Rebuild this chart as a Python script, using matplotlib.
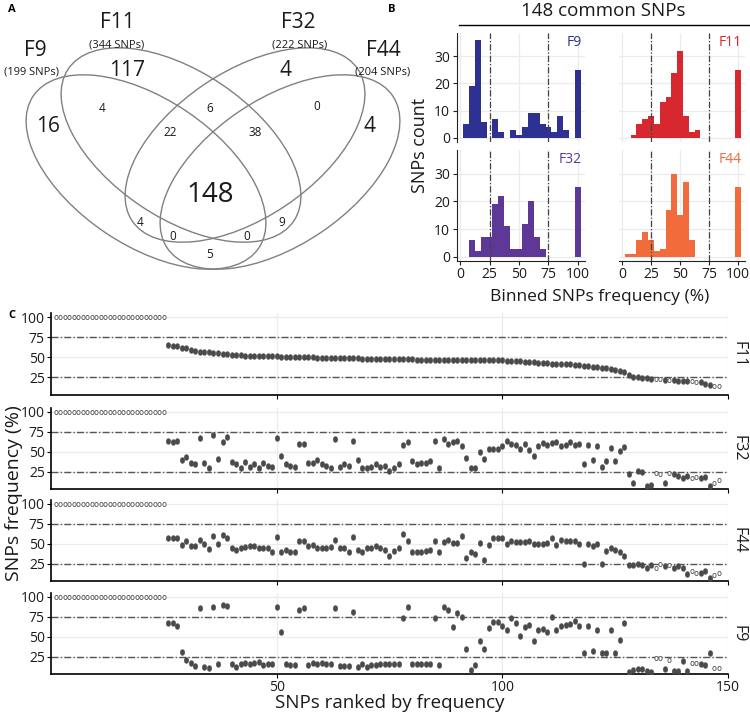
import matplotlib
matplotlib.use("Agg")
import matplotlib.pyplot as plt
from matplotlib.patches import Ellipse
from matplotlib.path import Path
from matplotlib.transforms import Affine2D

plt.rcParams['font.family'] = ['Open Sans', 'DejaVu Sans']

# --- data ---
set_names = ["F9", "F11", "F32", "F44"]
set_sizes = [199, 344, 222, 204]
venn_counts = [16, 117, 4, 4, 4, 6, 0, 22, 38, 148, 4, 9, 0, 0, 5]

bin_centers = [5, 10, 15, 20, 25, 30, 35, 40, 45, 50,
               55, 60, 65, 70, 75, 80, 85, 90, 95, 100]
hist_f9 = [5, 19, 36, 6, 0, 7, 2, 0, 3, 1, 4, 9, 9, 5, 4, 2, 8, 3, 0, 25]
hist_f11 = [0, 1, 5, 7, 8, 5, 13, 15, 24, 32, 8, 2, 3, 0, 0, 0, 0, 0, 0, 25]
hist_f32 = [0, 6, 2, 7, 7, 19, 22, 11, 3, 3, 12, 20, 7, 3, 0, 0, 0, 0, 0, 25]
hist_f44 = [1, 1, 6, 9, 6, 2, 3, 17, 30, 15, 27, 6, 0, 0, 0, 0, 0, 0, 0, 25]

# SNP frequency (%) per rank 1..148; the first 25 are fixed at 100
freq_f11 = [100] * 25 + [
    65, 64, 64, 62, 61, 59, 58, 57, 57, 56,
    55, 55, 54, 54, 53, 53, 53, 52, 52, 52,
    51, 51, 51, 51, 51, 50, 50, 50, 50, 50, 50, 50, 50, 49, 49,
    49, 49, 49, 49, 49, 49, 49, 49, 48, 48, 48, 48, 48, 48, 48,
    48, 48, 48, 48, 48, 47, 47, 47, 47, 47, 47, 47, 47, 47, 47,
    47, 46, 46, 46, 46, 46, 46, 46, 46, 46, 45, 45, 45, 45, 44,
    44, 44, 43, 43, 43, 42, 42, 41, 41, 41, 40, 40, 39, 39, 38,
    38, 37, 36, 35, 34, 33, 31, 28,
    26, 25, 24, 24, 23, 23, 23, 22, 22,
    22, 21, 21, 20, 20, 19, 19, 17, 15, 14, 14]
freq_f32 = [100] * 25 + [
    63, 62, 64, 40, 43, 36, 34, 67, 36, 30,
    71, 41, 62, 69, 37, 34, 30, 37, 31, 34,
    30, 36, 32, 31, 67, 44, 34, 32, 31, 60,
    60, 36, 36, 39, 34, 32, 30, 66, 31, 35,
    32, 64, 39, 30, 29, 31, 34, 31, 32, 26,
    30, 34, 59, 62, 38, 34, 36, 36, 38, 64,
    30, 66, 60, 62, 64, 57, 42, 30, 30, 49,
    41, 54, 54, 54, 57, 63, 60, 59, 53, 60,
    52, 44, 57, 61, 59, 61, 62, 57, 59, 62,
    58, 60, 34, 59, 40, 57, 31, 38, 55, 38,
    51, 56, 22, 11, 26, 24, 7, 8, 23, 22,
    11, 23, 22, 20, 17, 20, 17, 18, 17, 18,
    7, 10, 14]
freq_f44 = [100] * 25 + [
    57, 57, 57, 48, 53, 47, 47, 55, 50, 43,
    60, 50, 61, 57, 44, 42, 45, 46, 47, 47,
    45, 45, 44, 39, 59, 39, 42, 40, 40, 54,
    54, 47, 48, 44, 44, 44, 46, 55, 45, 45,
    39, 58, 42, 40, 44, 45, 47, 45, 42, 35,
    41, 44, 62, 53, 40, 39, 40, 41, 42, 53,
    40, 52, 55, 51, 51, 60, 32, 39, 37, 51,
    30, 48, 57, 57, 57, 50, 54, 52, 52, 52,
    54, 50, 50, 50, 51, 57, 48, 55, 54, 54,
    54, 50, 25, 50, 47, 49, 25, 41, 44, 42,
    40, 34, 23, 23, 24, 23, 20, 23, 20, 25,
    22, 23, 19, 22, 19, 12, 15, 13, 13, 15,
    7, 10, 13]
freq_f9 = [100] * 25 + [
    67, 67, 63, 31, 21, 17, 13, 86, 12, 11,
    87, 15, 90, 89, 15, 12, 16, 17, 16, 17,
    18, 14, 15, 15, 87, 56, 15, 14, 14, 83,
    86, 14, 17, 15, 17, 16, 15, 86, 13, 13,
    13, 81, 12, 15, 12, 14, 14, 16, 16, 15,
    15, 16, 73, 88, 15, 15, 15, 15, 15, 73,
    14, 87, 84, 62, 80, 75, 35, 8, 14, 45,
    35, 61, 68, 68, 63, 59, 73, 67, 51, 62,
    65, 45, 59, 60, 56, 75, 59, 64, 65, 66,
    70, 63, 29, 63, 32, 58, 29, 30, 59, 29,
    46, 67, 6, 8, 9, 9, 7, 6, 23, 23,
    9, 21, 7, 7, 19, 7, 17, 17, 15, 14,
    29, 11, 11]
hollow_ranks = list(range(1, 26)) + [134, 135, 137, 142, 143, 147, 148]

W, H = 750, 714
fig = plt.figure(figsize=(7.5, 7.14), dpi=100)


def px_axes(x0, y0, x1, y1):
    return fig.add_axes([x0 / W, 1 - y1 / H, (x1 - x0) / W, (y1 - y0) / H])


TXT = "#1a1a1a"
GRID = "#ebebeb"
DASHDOT = (0, (5, 1.6, 1, 1.6))

# --- A: Venn ---
ax = px_axes(0, 0, 400, 290)
ax.set_xlim(0, 400)
ax.set_ylim(290, 0)
ax.axis("off")
ell = [(146, 172, 34), (181, 145, 34), (245, 145, -34), (280, 172, -34)]
for cx, cy, ang in ell:
    ax.add_patch(Ellipse((cx, cy), 272, 146, angle=ang, fill=False,
                         ec="#808080", lw=1.0, clip_on=False))

name_pos = [(35, 50), (117, 23), (298, 23), (383, 50)]
size_pos = [(32, 72), (117, 45), (300, 45), (383, 72)]
for name, n, (nx, ny), (sx, sy) in zip(set_names, set_sizes, name_pos, size_pos):
    ax.text(nx, ny, name, fontsize=15, ha="center", va="center", color=TXT)
    ax.text(sx, sy, f"({n} SNPs)", fontsize=8, ha="center", va="center", color=TXT)

count_pos = [(48, 127), (127, 70), (285, 70), (370, 127), (102, 108), (210, 108),
             (317, 107), (170, 132), (255, 132), (210, 195), (140, 223),
             (282, 223), (173, 236), (247, 237), (210, 254)]
count_fs = [15, 15, 15, 15, 8.5, 8.5, 8.5, 8.5, 8.5, 20, 8.5, 8.5, 8.5, 8.5, 8.5]
for c, (x, y), fs in zip(venn_counts, count_pos, count_fs):
    ax.text(x, y, str(c), fontsize=fs, ha="center", va="center", color=TXT)
fig.text(8 / W, 1 - 9 / H, "A", fontsize=8, fontweight="bold", ha="left", va="center")

# --- B: histograms ---
fig.text(388 / W, 1 - 9 / H, "B", fontsize=8, fontweight="bold", ha="left", va="center")
fig.text(603 / W, 1 - 11 / H, "148 common SNPs", fontsize=13.5, ha="center",
         va="center", color=TXT)
fig.add_artist(plt.Line2D([459 / W, 750 / W], [1 - 25 / H, 1 - 25 / H],
                          color="black", lw=1.0))

hists = [("F9", hist_f9, "#2e3192"), ("F11", hist_f11, "#d7282f"),
         ("F32", hist_f32, "#5e3896"), ("F44", hist_f44, "#f26b3a")]
boxes = [(456.5, 33, 585, 142), (618.5, 33, 745, 142),
         (456.5, 150, 585, 261), (618.5, 150, 745, 261)]
for i, ((name, counts, col), box) in enumerate(zip(hists, boxes)):
    hx = px_axes(*box)
    hx.bar(bin_centers, counts, width=5, color=col, lw=0, zorder=2)
    hx.set_xlim(-3, 106)
    hx.set_ylim(-1.5, 38.5)
    hx.set_xticks([0, 25, 50, 75, 100])
    hx.set_yticks([0, 10, 20, 30])
    hx.grid(True, color=GRID, lw=0.9, zorder=0)
    hx.set_axisbelow(True)
    for v in (25, 75):
        hx.axvline(v, color="#444444", lw=0.9, ls=DASHDOT, zorder=3)
    hx.text(103, 35, name, color=col, fontsize=10, ha="right", va="center")
    for s in hx.spines.values():
        s.set_visible(False)
    left = i % 2 == 0
    bottom = i >= 2
    if left:
        hx.spines["left"].set_visible(True)
        hx.spines["left"].set_color("#222222")
    if bottom:
        hx.spines["bottom"].set_visible(True)
        hx.spines["bottom"].set_color("#222222")
    hx.tick_params(axis="y", left=left, labelleft=left, length=3, width=0.8,
                   labelsize=10, pad=1.5, colors="#222222", labelcolor=TXT)
    hx.tick_params(axis="x", bottom=bottom, labelbottom=bottom, length=3, width=0.8,
                   labelsize=10, pad=1.5, colors="#222222", labelcolor=TXT)
fig.text(420 / W, 1 - 145 / H, "SNPs count", fontsize=13, rotation=90,
         ha="center", va="center", color=TXT)
fig.text(600 / W, 1 - 297 / H, "Binned SNPs frequency (%)", fontsize=12.5,
         ha="center", va="center", color=TXT)

# --- C: ranked frequencies ---
fig.text(8 / W, 1 - 316 / H, "C", fontsize=8, fontweight="bold", ha="left", va="center")
ell_marker = Path.unit_circle().transformed(Affine2D().scale(0.78, 1.0))
panels = [("F11", freq_f11), ("F32", freq_f32), ("F44", freq_f44), ("F9", freq_f9)]
tops = [313, 408, 500, 593]
bottoms = [395, 489, 581, 674]
for j, ((name, freq), t, b) in enumerate(zip(panels, tops, bottoms)):
    cx = px_axes(51, t, 728, b)
    ranks = list(range(1, len(freq) + 1))
    solid_x = [r for r in ranks if r not in hollow_ranks]
    solid_y = [freq[r - 1] for r in solid_x]
    open_x = [r for r in ranks if r in hollow_ranks]
    open_y = [freq[r - 1] for r in open_x]
    cx.plot(solid_x, solid_y, ls="none", marker=ell_marker, ms=4.2,
            mfc="#4a4a4a", mec="#4a4a4a", mew=0.3, zorder=4)
    cx.plot(open_x, open_y, ls="none", marker=ell_marker, ms=3.0,
            mfc="white", mec="#555555", mew=0.6, zorder=4)
    for v in (25, 75):
        cx.axhline(v, color="#555555", lw=1.0, ls=DASHDOT, zorder=2)
    cx.set_xlim(0, 150)
    cx.set_ylim(3, 105)
    cx.set_xticks([50, 100, 150])
    cx.set_yticks([25, 50, 75, 100])
    cx.grid(True, color=GRID, lw=0.9, zorder=0)
    cx.set_axisbelow(True)
    cx.spines["top"].set_visible(False)
    cx.spines["right"].set_visible(False)
    cx.spines["left"].set_linewidth(1.2)
    cx.spines["bottom"].set_linewidth(1.2)
    last = j == len(panels) - 1
    cx.tick_params(axis="y", length=3, width=0.8, labelsize=10, pad=1.5,
                   labelcolor=TXT)
    cx.tick_params(axis="x", length=3, width=0.8, labelsize=10, pad=1,
                   labelbottom=last, labelcolor=TXT)
    fig.text(739 / W, 1 - (t + b) / 2 / H, name, rotation=-90,
             fontsize=11.5, ha="center", va="center", color=TXT)

fig.text(14 / W, 1 - 493 / H, "SNPs frequency (%)", fontsize=14, rotation=90,
         ha="center", va="center", color=TXT)
fig.text(390 / W, 1 - 703 / H, "SNPs ranked by frequency", fontsize=13.5,
         ha="center", va="center", color=TXT)

fig.savefig("out.png", dpi=100)
